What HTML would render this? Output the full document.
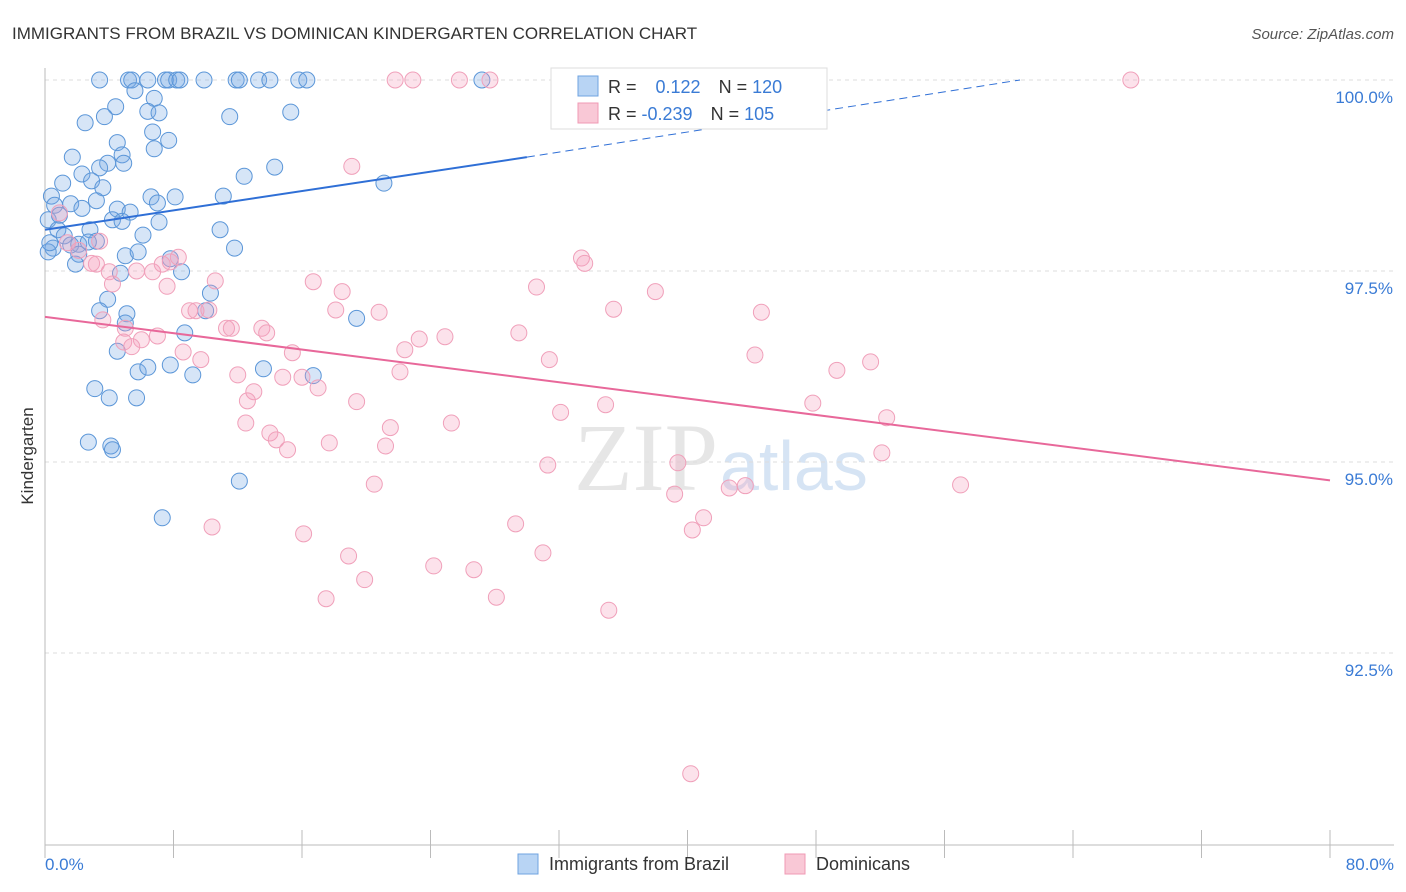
<!DOCTYPE html>
<html><head><meta charset="utf-8"><style>
body{margin:0;background:#fff;font-family:"Liberation Sans",sans-serif;}
svg{display:block}
</style></head><body>
<svg width="1406" height="892" id="chart">
<text x="12" y="39" font-size="17" fill="#333">IMMIGRANTS FROM BRAZIL VS DOMINICAN KINDERGARTEN CORRELATION CHART</text>
<text x="1394" y="39" font-size="15" fill="#555" text-anchor="end" font-style="italic">Source: ZipAtlas.com</text>
<text x="718" y="490" font-size="96" fill="#e6e6e6" text-anchor="end" font-family="Liberation Serif">ZIP</text>
<text x="720" y="490" font-size="70" fill="#d6e4f4">atlas</text>
<text x="33" y="456" font-size="17" fill="#333" text-anchor="middle" transform="rotate(-90 33 456)">Kindergarten</text>
<g id="grid"></g><g id="axes"></g><g id="pts"></g><g id="trends"></g>
<g>
<rect x="551" y="68" width="276" height="61" fill="#fff" stroke="#ddd"/>
<rect x="578" y="76" width="20" height="20" fill="#b8d4f4" stroke="#6fa3e0"/>
<rect x="578" y="103" width="20" height="20" fill="#f9c8d6" stroke="#f09ab4"/>
<text x="608" y="93" font-size="18" fill="#333">R = <tspan fill="#3a7bd5" dx="14">0.122</tspan><tspan dx="18" fill="#333">N = </tspan><tspan fill="#3a7bd5">120</tspan></text>
<text x="608" y="120" font-size="18" fill="#333">R = <tspan fill="#3a7bd5">-0.239</tspan><tspan dx="18" fill="#333">N = </tspan><tspan fill="#3a7bd5">105</tspan></text>
</g>
<g>
<rect x="518" y="854" width="20" height="20" fill="#b8d4f4" stroke="#6fa3e0"/>
<text x="549" y="870" font-size="18" fill="#333">Immigrants from Brazil</text>
<rect x="785" y="854" width="20" height="20" fill="#f9c8d6" stroke="#f09ab4"/>
<text x="816" y="870" font-size="18" fill="#333">Dominicans</text>
</g>
</svg>
<script>
const yTicks=[100,97.5,95,92.5];
const yTickLabels=["100.0%","97.5%","95.0%","92.5%"];
const xTicks=[0,8,16,24,32,40,48,56,64,72,80];
const blueX=[3.4,5.2,5.4,6.4,7.5,7.7,8.2,8.4,9.9,11.9,12.1,13.3,14.0,15.8,16.3,27.2,5.6,6.8,4.4,2.5,3.7,11.5,6.4,7.1,15.3,6.7,7.7,4.5,6.8,1.7,4.8,3.9,4.9,14.3,3.4,2.3,2.9,1.1,3.6,12.4,21.1,0.4,6.6,8.1,11.1,0.6,1.6,2.3,3.2,4.5,5.3,7.0,4.2,4.8,7.1,10.9,0.2,0.9,0.8,1.2,1.6,2.8,3.2,6.1,0.5,2.1,2.1,2.7,5.0,5.8,11.8,7.8,8.5,4.7,1.9,3.9,10.3,5.1,3.4,5.0,10.0,8.7,4.5,5.8,6.4,7.8,9.2,13.6,16.7,3.1,4.0,5.7,19.4,2.7,4.1,4.2,12.1,7.3,0.2,0.3];
const blueY=[100,100,100,100,100,100,100,100,100,100,100,100,100,100,100,100,99.86,99.76,99.65,99.44,99.52,99.52,99.59,99.57,99.58,99.32,99.21,99.18,99.10,98.99,99.02,98.91,98.91,98.86,98.85,98.77,98.68,98.65,98.59,98.74,98.65,98.48,98.47,98.47,98.48,98.36,98.38,98.32,98.42,98.31,98.27,98.39,98.17,98.15,98.14,98.04,98.17,98.23,98.04,97.96,97.84,98.04,97.89,97.97,97.80,97.85,97.72,97.88,97.70,97.75,97.80,97.66,97.49,97.47,97.59,97.13,97.21,96.94,96.98,96.82,96.98,96.69,96.45,96.18,96.24,96.27,96.14,96.22,96.13,95.96,95.84,95.84,96.88,95.26,95.21,95.16,94.75,94.27,97.75,97.87];
const pinkX=[21.8,22.9,25.8,27.7,67.6,32.5,19.1,0.9,1.4,2.1,3.4,3.2,2.9,4.0,5.7,6.7,7.8,8.3,7.3,7.6,10.6,16.7,18.5,30.6,33.4,33.6,38.0,4.2,3.6,5.0,7.0,6.0,4.9,5.4,9.0,9.4,10.2,11.3,11.6,13.5,13.8,18.1,20.8,23.3,24.9,29.5,35.4,44.6,8.6,9.7,15.4,22.4,31.4,44.2,51.4,49.3,12.0,14.8,16.0,13.0,17.0,22.1,12.6,19.4,32.1,34.9,47.8,52.4,12.5,14.0,14.4,15.1,17.7,21.5,21.2,25.3,31.3,39.4,52.1,20.5,39.2,42.6,43.6,57.0,10.4,16.1,29.3,40.3,41.0,18.9,31.0,24.2,26.7,19.9,17.5,28.1,35.1,40.2];
const pinkY=[100,100,100,100,100,100,98.87,98.26,97.87,97.77,97.89,97.59,97.60,97.49,97.50,97.49,97.62,97.68,97.59,97.30,97.37,97.36,97.23,97.29,97.67,97.60,97.23,97.33,96.86,96.75,96.65,96.60,96.57,96.51,96.98,96.98,96.99,96.75,96.75,96.75,96.69,96.99,96.96,96.61,96.64,96.69,97.00,96.96,96.44,96.34,96.43,96.47,96.34,96.40,96.31,96.20,96.14,96.11,96.11,95.92,95.97,96.18,95.80,95.79,95.65,95.75,95.77,95.58,95.51,95.38,95.29,95.16,95.25,95.45,95.21,95.51,94.96,94.99,95.12,94.71,94.58,94.66,94.69,94.70,94.15,94.06,94.19,94.11,94.27,93.77,93.81,93.64,93.59,93.46,93.21,93.23,93.06,90.92];
const blueTrendX=[0,30,60.7];
const blueTrendY=[98.04,98.99,100];
const pinkTrendX=[0,80];
const pinkTrendY=[96.9,94.76];
const NS="http://www.w3.org/2000/svg";
const sx=v=>45+v/80*1285;
const sy=v=>80+(100-v)/2.5*191;
function mk(tag,attrs,parent){const e=document.createElementNS(NS,tag);for(const k in attrs)e.setAttribute(k,attrs[k]);parent.appendChild(e);return e;}
const grid=document.getElementById('grid'),axes=document.getElementById('axes'),pts=document.getElementById('pts'),tr=document.getElementById('trends');
yTicks.forEach((t,i)=>{
 const l=mk('line',{x1:45,x2:1394,y1:sy(t),y2:sy(t),stroke:'#ddd','stroke-dasharray':'4,4'},grid);
 
 
 const tx=mk('text',{x:1393,y:sy(t)+23,'font-size':17,fill:'#3a7bd5','text-anchor':'end'},axes);
 tx.textContent=yTickLabels[i];
 
 
});
const la=mk('line',{x1:45,x2:45,y1:68,y2:845,stroke:'#bbb'},axes);


const lb=mk('line',{x1:45,x2:1394,y1:845,y2:845,stroke:'#bbb'},axes);


xTicks.forEach(t=>{
 const l=mk('line',{x1:sx(t),x2:sx(t),y1:830,y2:858,stroke:'#bbb'},axes);
 
 
});
const x0=mk('text',{x:45,y:870,'font-size':17,fill:'#3a7bd5'},axes);x0.textContent='0.0%';


const x1=mk('text',{x:1394,y:870,'font-size':17,fill:'#3a7bd5','text-anchor':'end'},axes);x1.textContent='80.0%';


blueX.forEach((x,i)=>{
 const c=mk('circle',{cx:sx(x),cy:sy(blueY[i]),r:8,fill:'rgba(120,170,230,0.3)',stroke:'#5b96d8','stroke-width':1},pts);
 
 
});
pinkX.forEach((x,i)=>{
 const c=mk('circle',{cx:sx(x),cy:sy(pinkY[i]),r:8,fill:'rgba(245,160,190,0.3)',stroke:'#f0a0ba','stroke-width':1},pts);
 
 
});
const b1=mk('line',{x1:sx(blueTrendX[0]),y1:sy(blueTrendY[0]),x2:sx(blueTrendX[1]),y2:sy(blueTrendY[1]),stroke:'#2f6fd6','stroke-width':2},tr);


const b2=mk('line',{x1:sx(blueTrendX[1]),y1:sy(blueTrendY[1]),x2:sx(blueTrendX[2]),y2:sy(blueTrendY[2]),stroke:'#2f6fd6','stroke-width':1,'stroke-dasharray':'8,5'},tr);


const p1=mk('line',{x1:sx(pinkTrendX[0]),y1:sy(pinkTrendY[0]),x2:sx(pinkTrendX[1]),y2:sy(pinkTrendY[1]),stroke:'#e8689a','stroke-width':2},tr);


</script>
</body></html>
